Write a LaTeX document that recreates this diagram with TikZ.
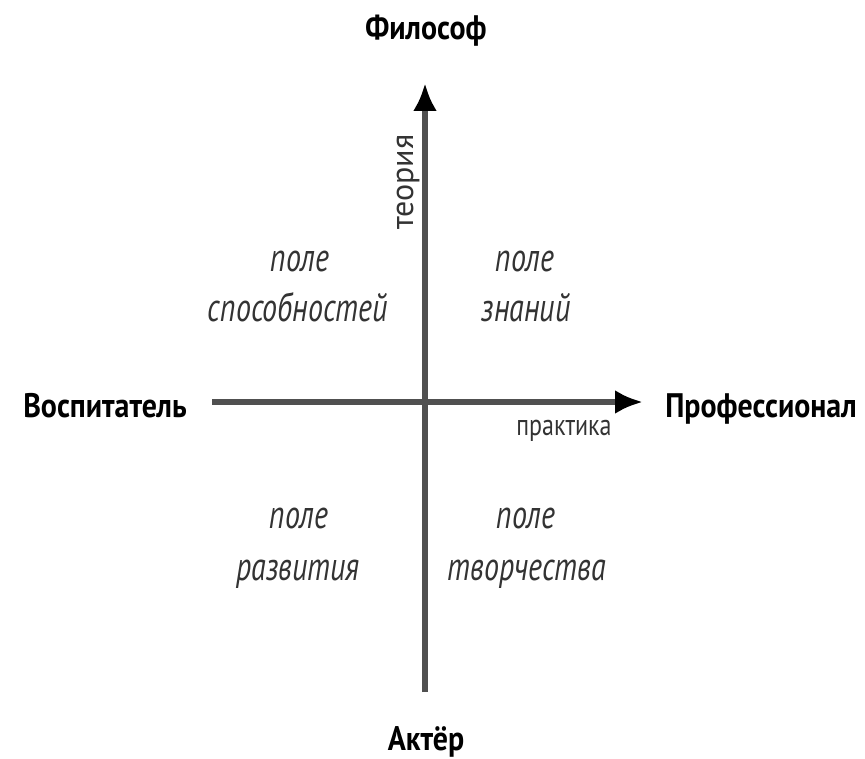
\documentclass[tikz,border=0pt]{standalone}
\usepackage{fontspec}
\setmainfont{PT Sans}
\newfontfamily\boldlab[FakeStretch=0.88]{PT Sans}
\newfontfamily\itlab[FakeStretch=0.75]{PT Sans}
\newfontfamily\axlab[FakeStretch=0.8]{PT Sans}
\usetikzlibrary{arrows.meta}
\definecolor{axisgray}{HTML}{505050}
\definecolor{textgray}{HTML}{333333}
\begin{document}
\begin{tikzpicture}[x=1pt,y=-1pt,
  pole/.style={font=\itlab\itshape\fontsize{40}{40}\selectfont, text=textgray, anchor=base, inner sep=0pt},
  role/.style={font=\boldlab\bfseries\fontsize{34}{34}\selectfont, anchor=base, inner sep=0pt},
  axtext/.style={font=\axlab\fontsize{30}{30}\selectfont, text=textgray, anchor=base, inner sep=0pt},
  axis/.style={draw=axisgray, line width=6pt, -{Latex[length=28pt,width=24pt,black]}}]
\useasboundingbox (0,0) rectangle (865,759);
% axes
\coordinate (vb) at (425,692);
\coordinate (vt) at (425,83);
\coordinate (hl) at (212,402);
\coordinate (hr) at (643,402);
\draw[axis] (vb) -- (vt);
\draw[axis] (hl) -- (hr);
% roles
\node[role] (phil) at (426,40) {Философ};
\node[role] (vosp) at (105,417) {Воспитатель};
\node[role] (prof) at (761,417) {Профессионал};
\node[role] (akt) at (426,750) {Актёр};
% axis labels
\node[axtext, font=\fontsize{32}{32}\selectfont, rotate=90] (teor) at (413,182) {теория};
\node[axtext] (prak) at (564,435) {практика};
% fields
\node[pole] (p1a) at (300,272) {поле};
\node[pole] (p1b) at (298,322) {способностей};
\node[pole] (p2a) at (525,272) {поле};
\node[pole] (p2b) at (526,322) {знаний};
\node[pole] (p3a) at (299,528) {поле};
\node[pole] (p3b) at (298,580) {развития};
\node[pole] (p4a) at (526,528) {поле};
\node[pole] (p4b) at (527,580) {творчества};
\end{tikzpicture}
\end{document}
